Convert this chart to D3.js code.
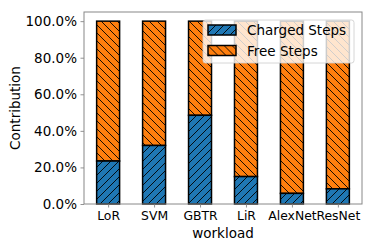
<!DOCTYPE html>
<meta charset="utf-8">
<style>
body { margin: 0; background: #fff; }
text { font-family: "DejaVu Sans", sans-serif; fill: #000; }
</style>
<svg width="374" height="249"></svg>
<script src="https://d3js.org/d3.v7.min.js"></script>
<script>

var workloads = ["LoR", "SVM", "GBTR", "LiR", "AlexNet", "ResNet"];
var charged = [0.235, 0.32, 0.485, 0.15, 0.058, 0.083];
var yTicks = [0, 0.2, 0.4, 0.6, 0.8, 1.0];
var seriesNames = ["Charged Steps", "Free Steps"];

var svg = d3.select("svg"),
    margin = {left: 84, top: 12, right: 12, bottom: 45},
    width = 374 - margin.left - margin.right,
    height = 249 - margin.top - margin.bottom;

var defs = svg.append("defs");
function hatch(id, color, dir) {
  var p = defs.append("pattern")
      .attr("id", id)
      .attr("patternUnits", "userSpaceOnUse")
      .attr("width", 8).attr("height", 8);
  p.append("rect").attr("width", 8).attr("height", 8).attr("fill", color);
  var d = dir > 0 ? "M-2,2 l4,-4 M0,8 l8,-8 M6,10 l4,-4" : "M-2,6 l4,4 M0,0 l8,8 M6,-2 l4,4";
  p.append("path").attr("d", d).attr("stroke", "#000").attr("stroke-width", 0.9);
}
hatch("hb", "#1f77b4", 1);
hatch("ho", "#ff7f0e", -1);

var g = svg.append("g").attr("transform", "translate(" + margin.left + "," + margin.top + ")");

var x = d3.scaleLinear().domain([-0.525, workloads.length - 1 + 0.525]).range([0, width]);
var y = d3.scaleLinear().domain([0, 1.05]).range([height, 0]);
var bw = x(0.5) - x(0);

var bars = g.append("g").selectAll("g")
  .data(workloads)
  .enter().append("g");

bars.append("rect")
    .attr("x", function(d, i) { return x(i) - bw / 2; })
    .attr("width", bw)
    .attr("y", function(d, i) { return y(1); })
    .attr("height", function(d, i) { return y(charged[i]) - y(1); })
    .attr("fill", "url(#ho)")
    .attr("stroke", "#000").attr("stroke-width", 1.5);

bars.append("rect")
    .attr("x", function(d, i) { return x(i) - bw / 2; })
    .attr("width", bw)
    .attr("y", function(d, i) { return y(charged[i]); })
    .attr("height", function(d, i) { return y(0) - y(charged[i]); })
    .attr("fill", "url(#hb)")
    .attr("stroke", "#000").attr("stroke-width", 1.5);

// axes
var xAxis = g.append("g")
    .attr("transform", "translate(0," + height + ")")
    .call(d3.axisBottom(x).tickValues(d3.range(workloads.length))
      .tickFormat(function(i) { return workloads[i]; }).tickSize(3.5).tickPadding(3.5));
var yAxis = g.append("g")
    .call(d3.axisLeft(y).tickValues(yTicks).tickFormat(d3.format(".1%")).tickSize(3.5).tickPadding(3.5));

[xAxis, yAxis].forEach(function(a) {
  a.select(".domain").remove();
  a.selectAll("line").attr("stroke", "#777").attr("stroke-width", 0.8);
  a.selectAll("text").attr("font-size", 13.5).attr("font-family", "DejaVu Sans").attr("fill", "#000");
});
xAxis.selectAll("text").attr("font-size", 12.4);

g.append("rect")
    .attr("width", width).attr("height", height)
    .attr("fill", "none").attr("stroke", "#888").attr("stroke-width", 1);

svg.append("text")
    .attr("x", margin.left + width / 2).attr("y", 238)
    .attr("text-anchor", "middle").attr("font-size", 13.5)
    .text("workload");

svg.append("text")
    .attr("transform", "translate(20," + (margin.top + height / 2) + ") rotate(-90)")
    .attr("text-anchor", "middle").attr("font-size", 13.5)
    .text("Contribution");

// legend
var leg = svg.append("g").attr("transform", "translate(203,20)");
leg.append("rect")
    .attr("width", 151).attr("height", 43).attr("rx", 2.5)
    .attr("fill", "#fff").attr("fill-opacity", 0.8)
    .attr("stroke", "#ccc").attr("stroke-width", 0.8);
var items = leg.selectAll(".item").data(seriesNames).enter().append("g")
    .attr("transform", function(d, i) { return "translate(5," + (5 + i * 20.5) + ")"; });
items.append("rect")
    .attr("width", 28).attr("height", 10)
    .attr("fill", function(d, i) { return i ? "url(#ho)" : "url(#hb)"; })
    .attr("stroke", "#000").attr("stroke-width", 1.5);
items.append("text")
    .attr("x", 39).attr("y", 10)
    .attr("font-size", 13.5)
    .text(function(d) { return d; });

</script>
